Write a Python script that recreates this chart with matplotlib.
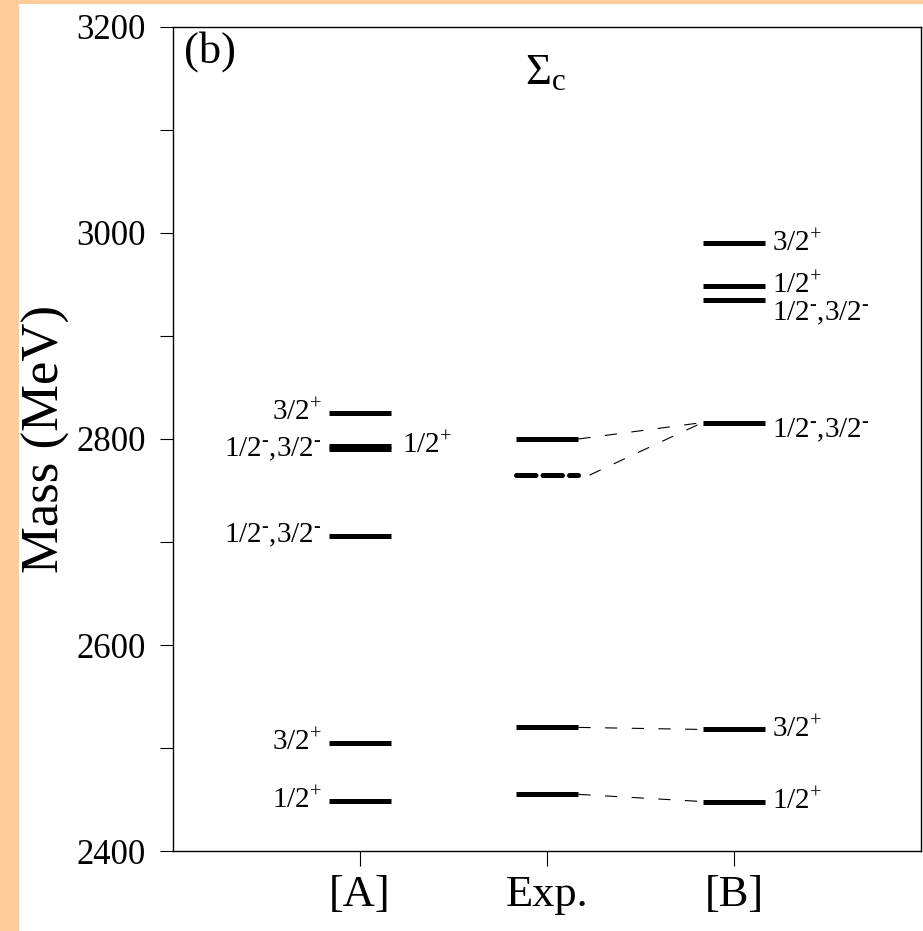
import matplotlib.pyplot as plt
from matplotlib.patches import Rectangle

plt.rcParams['font.family'] = 'Liberation Serif'
plt.rcParams['mathtext.fontset'] = 'custom'
plt.rcParams['mathtext.rm'] = 'Liberation Serif'
plt.rcParams['mathtext.it'] = 'Liberation Serif'
plt.rcParams['mathtext.default'] = 'regular'

P = r'$3/2^{+}$'
Q = r'$1/2^{+}$'
N = r'$1/2^{\text{-}}{,}3/2^{\text{-}}$'

# level masses (MeV)
a_mass = [2825, 2790, 2793, 2706, 2505, 2449]
a_label = [P, N, Q, N, P, Q]
a_side = ['left', 'left', 'right', 'left', 'left', 'left']

exp_mass = [2800, 2765, 2520, 2455]
exp_dashed = [False, True, False, False]

b_mass = [2990, 2949, 2935, 2816, 2518, 2448]
b_label = [P, Q, N, N, P, Q]

# exp level -> model [B] level
link_exp = [2800, 2765, 2520, 2455]
link_b = [2816, 2816, 2518, 2448]

columns = ['[A]', 'Exp.', '[B]']

fig = plt.figure(figsize=(9.23, 9.31), dpi=100)
fig.patch.set_facecolor('#FFCC99')
fig.patches.append(Rectangle((19 / 923, 0), 1, 1 - 4 / 931, transform=fig.transFigure,
                             facecolor='white', edgecolor='none', zorder=-1))
ax = fig.add_axes([173 / 923, 80 / 931, 748 / 923, 824 / 931])

hw = 0.168
lw = 3.6
fs = 21

# [A]
for m, lab, side in zip(a_mass, a_label, a_side):
    ax.plot([1 - hw, 1 + hw], [m, m], color='black', lw=lw, solid_capstyle='butt')
    if side == 'left':
        ax.text(1 - hw - 0.035, m, lab, ha='right', va='center', fontsize=fs)
    else:
        ax.text(1 + hw + 0.055, m, lab, ha='left', va='center', fontsize=fs)

# Exp.
for m, d in zip(exp_mass, exp_dashed):
    ls = (0, (3.9, 1.4)) if d else '-'
    ax.plot([2 - hw, 2 + hw], [m, m], color='black', lw=lw, linestyle=ls,
            solid_capstyle='butt', dash_capstyle='round')

# [B]
b_off = {2935: -13, 2816: -8}
for m, lab in zip(b_mass, b_label):
    ax.plot([3 - hw, 3 + hw], [m, m], color='black', lw=lw, solid_capstyle='butt')
    ax.text(3 + hw + 0.035, m + b_off.get(m, 0), lab, ha='left', va='center', fontsize=fs)

# dashed connections
for me, mb in zip(link_exp, link_b):
    x0 = 2 + hw if me != 2765 else 2 + hw + 0.06
    ax.plot([x0, 3 - hw], [me, mb], color='black', lw=0.8, linestyle=(0, (11, 13)))

ax.text(0.06, 3196, '(b)', ha='left', va='top', fontsize=32)
ax.text(1.99, 3155, r'$\Sigma_c$', ha='center', va='center', fontsize=32)

ax.set_xlim(0, 4)
ax.set_ylim(2400, 3200)
ax.set_xticks([1, 2, 3])
ax.set_xticklabels(columns, fontsize=32)
ax.set_yticks(range(2400, 3201, 200))
ax.set_yticks(range(2500, 3200, 200), minor=True)
ax.tick_params(axis='y', which='both', direction='out', length=9.5, width=0.8, labelsize=25, pad=10)
ax.tick_params(axis='x', direction='out', length=11, width=0.8, pad=6)
ax.set_ylabel('Mass (MeV)', fontsize=38)
ax.yaxis.set_label_coords(-0.138, 0.5)
for s in ax.spines.values():
    s.set_linewidth(1.0)

plt.savefig('out.png', dpi=100)
